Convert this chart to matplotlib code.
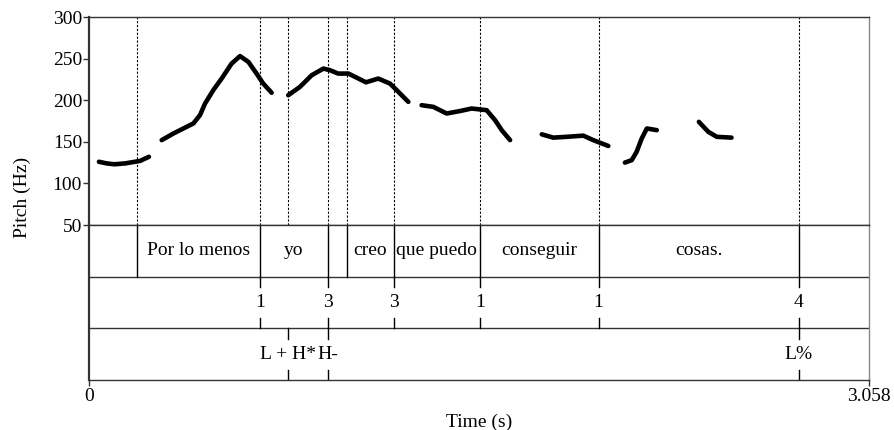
import matplotlib.pyplot as plt
import numpy as np

plt.rcParams['font.family'] = ['Liberation Serif', 'DejaVu Serif']

t_max = 3.058

# pitch contour, one list per voiced stretch (time s, Hz)
seg_t = [
    [0.039, 0.070, 0.100, 0.141, 0.180, 0.200, 0.235],
    [0.285, 0.331, 0.370, 0.409, 0.435, 0.455, 0.487, 0.520, 0.559, 0.592,
     0.625, 0.657, 0.683, 0.716],
    [0.781, 0.827, 0.873, 0.919, 0.945, 0.977, 1.017, 1.050, 1.086, 1.134,
     1.180, 1.213, 1.252],
    [1.304, 1.350, 1.402, 1.455, 1.500, 1.559, 1.592, 1.618, 1.651],
    [1.775, 1.820, 1.873, 1.938, 1.977, 2.036],
    [2.101, 2.128, 2.147, 2.167, 2.187, 2.226],
    [2.391, 2.428, 2.461, 2.519],
]
seg_f0 = [
    [126, 124, 123, 124, 126, 127, 132],
    [152, 160, 166, 172, 182, 196, 212, 226, 244, 253, 246, 232, 220, 209],
    [206, 216, 230, 238, 236, 232, 232, 227, 221.5, 226, 220, 210, 198],
    [194, 192, 184, 187, 190, 188, 176, 164, 152],
    [159, 155, 156, 157.4, 152, 145],
    [125, 128, 138, 154, 166, 164],
    [174, 162, 156, 155],
]

# word tier
word_bounds = [0.188, 0.670, 0.936, 1.011, 1.196, 1.532, 1.998, 2.782]
words = ["", "Por lo menos", "yo", "", "creo", "que puedo", "conseguir", "cosas.", ""]
# break indices tier
bi_times = [0.670, 0.936, 1.196, 1.532, 1.998, 2.782]
bi_labels = ["1", "3", "3", "1", "1", "4"]
# tones tier
tone_times = [0.781, 0.936, 2.782]
tone_labels = ["L + H*", "H-", "L%"]

fig = plt.figure(figsize=(8.94, 4.30), dpi=100)
L, R = 89 / 894, 869 / 894
ax = fig.add_axes([L, 1 - 225 / 430, R - L, 208 / 430])
axt = fig.add_axes([L, 1 - 380 / 430, R - L, 155 / 430])

fc = '#333333'
for a in (ax, axt):
    a.set_xlim(0, t_max)
    for s in a.spines.values():
        s.set_color(fc)
        s.set_linewidth(1.0)
    a.spines['left'].set_linewidth(1.6)
    a.spines['right'].set_color('#888888')

for tt, ff in zip(seg_t, seg_f0):
    ax.plot(tt, ff, color='black', lw=3.3, solid_capstyle='round', solid_joinstyle='round')

for b in sorted(set(word_bounds + tone_times)):
    ax.axvline(b, color='black', lw=0.8, ls=(0, (2, 1.5)))

ax.set_ylim(50, 300)
ax.set_yticks([50, 100, 150, 200, 250, 300])
ax.tick_params(axis='y', direction='out', length=4, width=1, color=fc, labelsize=14, pad=1)
ax.set_xticks([])
fig.text(22 / 894, 1 - 197 / 430, "Pitch (Hz)", rotation=90, ha='center', va='center', fontsize=14)

# tiers
axt.set_ylim(0, 3)
axt.set_yticks([])
axt.axhline(1, color=fc, lw=1.0)
axt.axhline(2, color=fc, lw=1.0)
edges = [0] + word_bounds + [t_max]
for b in word_bounds:
    axt.plot([b, b], [2, 3], color='black', lw=1.0)
for i, w in enumerate(words):
    if w:
        axt.text((edges[i] + edges[i + 1]) / 2, 2.5, w, ha='center', va='center', fontsize=14)
tk = 0.2
for x, lab in zip(bi_times, bi_labels):
    axt.plot([x, x], [2 - tk, 2], color='black', lw=1.0)
    axt.plot([x, x], [1, 1 + tk], color='black', lw=1.0)
    axt.text(x, 1.5, lab, ha='center', va='center', fontsize=14)
for x, lab in zip(tone_times, tone_labels):
    axt.plot([x, x], [1 - tk, 1], color='black', lw=1.0)
    axt.plot([x, x], [0, tk], color='black', lw=1.0)
    axt.text(x, 0.5, lab, ha='center', va='center', fontsize=14)

axt.set_xticks([0, t_max])
axt.set_xticklabels(["0", "3.058"])
axt.tick_params(axis='x', direction='out', length=4, width=1, color=fc, labelsize=14, pad=2)
fig.text((L + R) / 2, 1 - 422 / 430, "Time (s)", ha='center', va='center', fontsize=14)

fig.savefig('out.png', dpi=100)
